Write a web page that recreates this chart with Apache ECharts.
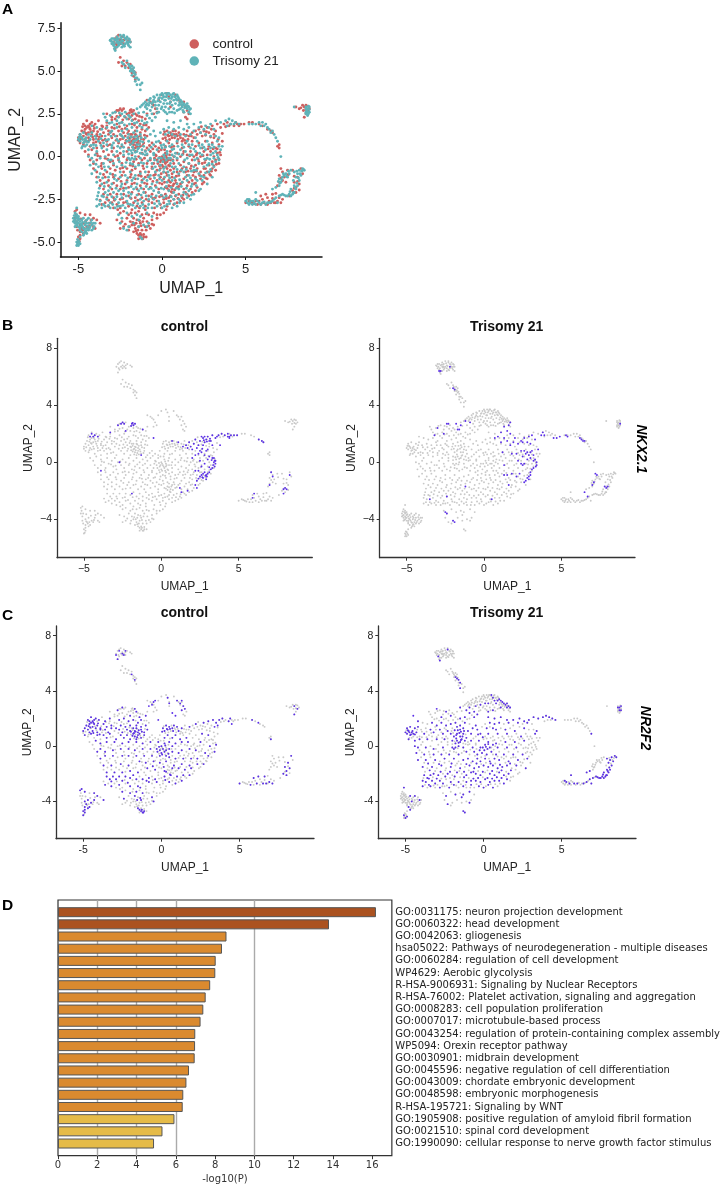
<!DOCTYPE html>
<html><head><meta charset="utf-8">
<script src="https://cdn.jsdelivr.net/npm/echarts@6/dist/echarts.min.js"></script>
<style>html,body{margin:0;padding:0;background:#fff}#c{width:723px;height:1188px}</style></head>
<body><div id="c"></div>
<script>
// UMAP coordinates, flat x,y pairs
const controlUMAP=[
-2.9,6.7,-2.8,6.9,-2.7,7,-2.6,7.1,-2.5,6.8,-2.4,6.7,-2.3,6.6,-2.5,6.6,-2.2,6.9,-2,6.8,-1.9,6.7,-2.7,6.5,-2.8,6.3,-2.75,6.6,-2.4,7,-2.3,6.8,-2.6,6.7,
-2.5,5.8,-2.6,5.5,-2.3,5.6,-2.1,5.5,-2.4,5.3,-2.2,5.3,-2,5.2,-1.9,5.4,-1.8,5.1,-1.7,5,-1.8,4.9,-1.6,4.9,-1.7,4.7,-1.6,4.5,
-0.9,3.3,-0.7,3.2,-0.6,3.1,-0.5,3,-0.4,2.8,-0.3,2.6,-0.5,2.5,-0.2,3.3,0,3.6,0.3,3.7,0.4,3.5,0.5,3.2,0.5,2.9,0.8,3.6,1,3.3,1.1,3.2,1.2,3,1.3,3.2,1.4,2.9,1.5,2.7,1.6,2.5,1.3,2.6,1.4,2.3,1.5,2.2,
-2.8,2.6,-2.7,2.7,-2.6,2.7,-2.5,2.8,-2.4,2.7,-2.3,2.8,-1.9,2.7,-1.8,2.6,-1.7,2.7,-1.6,2.5,-2.1,2.5,-1.85,2.75,-1.95,2.55,
-3.3,2.5,-3,2.3,-2.8,2.2,-2.5,2.4,-2.2,2.3,-2,2.2,-1.8,2.4,-1.6,2.2,-1.4,2.1,-1.2,2.3,-1,2.2,-0.9,2.5,-1.5,2.4,
-4.7,1.9,-4.5,2.1,-4.4,1.8,-4.2,2,-4,1.9,-3.8,2.1,-3.6,1.8,-3.3,2,-3,1.7,-2.7,1.9,-2.4,2,-2.1,1.8,-1.8,1.9,-1.5,1.7,-1.3,1.9,-4.6,1.8,-4.3,1.9,-4.5,1.7,-4.1,1.8,
-4.8,1.5,-4.6,1.6,-4.4,1.4,-4.3,1.6,-4.1,1.5,-3.9,1.3,-3.7,1.6,-3.5,1.4,-3.2,1.5,-2.9,1.3,-2.6,1.5,-2.3,1.4,-2,1.5,-1.8,1.3,-1.6,1.5,-1.3,1.4,-1,1.5,-0.8,1.7,
-5,1.1,-4.9,1.3,-4.7,1.2,-4.6,1,-4.5,1.3,-4.4,1.1,-4.2,1.3,-4.1,1,-3.9,1.2,-3.8,1,-3.6,1.2,-3.4,1,-3.2,1.3,-3,1.1,-2.7,1.2,-2.5,1,-2.2,1.2,-2,1.1,-1.9,1.3,-1.7,1.1,-1.6,1.3,-1.5,1,-1.3,1.2,-1.1,1,-0.9,1.2,
0.1,1.3,0.2,1.1,0.3,1.5,0.4,1.2,0.5,1.4,0.6,1.1,0.7,1.3,0.8,1.5,0.9,1.2,1,1.4,1.1,1.1,1.3,1.3,1.5,1.5,1.6,1.2,1.8,1.4,1.9,1.1,2.1,1.3,2.2,1.6,2.4,1.2,2.5,1.5,2.7,1.7,2.8,1.4,3,1.8,3.2,1.5,3.3,1.9,3.5,1.7,3.7,1.9,3.9,2,4.1,1.9,4.3,1.8,4.5,1.9,4.7,1.9,4.9,1.9,4,1.8,4.4,2,
5.2,2,5.4,2,5.8,1.9,6,1.8,6.3,1.6,6.5,1.5,6.6,1.4,7,0.7,6.9,0.6,7,0.5,
-4.9,0.8,-4.7,0.7,-4.5,0.9,-4.3,0.6,-4.1,0.8,-3.9,0.5,-3.7,0.8,-3.5,0.6,-3.3,0.9,-3.1,0.7,-2.9,0.5,-2.6,0.8,-2.4,0.6,-2.2,0.8,-2,0.5,-1.8,0.9,-1.7,0.7,-1.6,0.5,-1.5,0.8,-1.4,0.9,-1.3,0.6,-1.1,0.8,-0.9,0.5,-0.6,0.8,-0.4,0.6,-0.1,0.8,0.2,0.6,0.4,0.8,0.7,0.6,0.9,0.8,1.2,0.5,1.4,0.8,1.6,0.6,1.8,0.9,2,0.6,2.2,0.8,2.4,0.5,2.6,0.9,2.8,0.6,3,0.8,3.2,0.5,3.4,0.7,
-4.6,0.3,-4.4,0.1,-4.2,0.4,-3.9,0.2,-3.7,0,-3.5,0.3,-3.2,0.1,-3,0.3,-2.8,0,-2.5,0.2,-2.3,0,-2.1,0.3,-1.8,0.1,-1.6,0.3,-1.4,0,-1.2,0.2,-0.9,0.1,-0.7,0.3,-0.4,0.1,-0.2,0.3,0,0,0.2,0.2,0.3,-0.1,0.5,0.3,0.7,0,0.9,0.2,1.1,0,1.3,0.3,1.5,0.1,1.7,0.3,1.9,0,2.1,0.2,2.3,0,2.5,0.3,2.7,0.1,2.9,0.3,3.1,0,3.3,0.2,3.5,0.1,
-4.3,-0.2,-4.1,-0.4,-3.9,-0.2,-3.6,-0.4,-3.4,-0.1,-3.1,-0.3,-2.9,-0.5,-2.6,-0.2,-2.4,-0.4,-2.1,-0.2,-1.9,-0.5,-1.7,-0.3,-1.4,-0.4,-1.2,-0.2,-0.9,-0.4,-0.7,-0.2,-0.5,-0.4,-0.3,-0.2,-0.1,-0.3,0,-0.5,0.1,-0.2,0.2,-0.4,0.3,-0.3,0.4,-0.5,0.5,-0.2,0.7,-0.4,0.9,-0.2,1.1,-0.5,1.3,-0.3,1.6,-0.4,1.8,-0.2,2,-0.5,2.2,-0.3,2.4,-0.4,2.6,-0.2,2.8,-0.5,3,-0.3,3.2,-0.2,3.4,-0.4,
-4.1,-0.7,-3.9,-0.9,-3.6,-0.7,-3.3,-0.9,-3.1,-0.7,-2.8,-0.8,-2.5,-0.7,-2.3,-0.9,-2.1,-0.7,-1.8,-0.8,-1.6,-0.7,-1.3,-0.9,-1.1,-0.7,-0.8,-0.9,-0.6,-0.7,-0.3,-0.8,-0.1,-0.7,0.1,-0.9,0.3,-0.7,0.5,-0.8,0.7,-0.7,0.9,-0.9,1.2,-0.7,1.4,-0.9,1.7,-0.7,1.9,-0.9,2.1,-0.7,2.3,-0.9,2.5,-0.7,2.7,-0.9,3,-0.7,3.2,-0.8,
-3.9,-1.2,-3.7,-1.4,-3.4,-1.2,-3.2,-1.4,-2.9,-1.2,-2.6,-1.3,-2.4,-1.1,-2.1,-1.4,-1.9,-1.2,-1.6,-1.3,-1.4,-1.1,-1.2,-1.4,-1,-1.2,-0.7,-1.3,-0.5,-1.1,-0.3,-1.4,-0.1,-1.2,0.1,-1.3,0.3,-1.1,0.4,-1.4,0.6,-1.2,0.8,-1.4,1,-1.1,1.3,-1.3,1.5,-1.1,1.8,-1.4,2,-1.2,2.3,-1.3,2.5,-1.1,2.7,-1.3,2.9,-1.1,
-3.7,-1.7,-3.5,-1.9,-3.2,-1.7,-3,-1.9,-2.7,-1.7,-2.5,-1.9,-2.2,-1.6,-2,-1.8,-1.8,-1.6,-1.5,-1.9,-1.3,-1.7,-1.1,-1.9,-0.9,-1.6,-0.7,-1.8,-0.4,-1.7,-0.2,-1.9,0,-1.6,0.2,-1.8,0.4,-1.7,0.5,-1.5,0.6,-1.9,0.7,-1.6,0.9,-1.8,1.1,-1.6,1.3,-1.9,1.5,-1.7,1.7,-1.9,1.9,-1.6,2.1,-1.8,2.4,-1.6,2.5,-1.5,
-3.5,-2.2,-3.3,-2.4,-3.1,-2.2,-2.9,-2.4,-2.7,-2.2,-2.5,-2.5,-2.3,-2.2,-2,-2.3,-1.8,-2.1,-1.6,-2.4,-1.4,-2.2,-1.2,-2.4,-1,-2.1,-0.8,-2.3,-0.6,-2.2,-0.4,-2.4,-0.2,-2.1,0,-2.3,0.2,-2.2,0.4,-2.4,0.6,-2.1,0.8,-2.3,1,-2.2,1.2,-2.4,1.4,-2.1,1.6,-2.3,1.8,-2.1,2,-2,
-3.6,-2.8,-3.4,-2.7,-3.2,-2.9,-3,-2.7,-2.7,-2.8,-2.5,-3,-2.3,-2.7,-2,-2.9,-1.7,-2.7,-1.5,-2.9,-1.2,-2.7,-1,-2.9,-0.8,-2.6,-0.6,-2.7,-0.3,-2.6,-0.1,-2.8,0.1,-2.7,0.3,-2.9,0.5,-2.6,0.7,-2.8,0.9,-2.7,1.1,-2.6,1.3,-2.5,
-2.5,-3.3,-2.3,-3.2,-2,-3.4,-1.8,-3.1,-1.6,-3.3,-1.4,-3.2,-1.2,-3.4,-1,-3.1,-0.8,-3.4,-0.5,-3.3,-0.3,-3.4,-2.7,-3.7,-2.4,-3.8,-2.1,-3.6,-1.9,-3.8,-1.7,-3.6,-1.5,-3.7,-1.3,-3.9,-1.1,-3.6,-0.9,-3.8,-0.6,-3.7,-0.3,-3.6,-0.1,-3.4,0.1,-3.3,
-2.5,-4.2,-2.3,-4.1,-2,-4.3,-1.8,-4,-1.6,-4.2,-1.4,-4.1,-1.2,-4.3,-1,-4.1,-0.7,-4.2,-0.5,-4,-1.7,-4.4,-1.5,-4.5,-1.4,-4.6,-1.3,-4.7,-1.2,-4.8,-1.1,-4.7,-1.25,-4.6,-1.15,-4.8,
-5.2,-3.2,-5.1,-3.1,-5.2,-3.6,-5.1,-3.8,-4.9,-3.3,-4.6,-3.4,-4.3,-3.4,-4.1,-3.6,-3.9,-3.7,-3.7,-3.9,-5.1,-4.1,-4.9,-4,-4.7,-3.9,-4.5,-4.1,-4.3,-3.9,-4.1,-4.1,-4,-4.2,-4.9,-4.4,-4.8,-4.2,-4.6,-4.4,-4.4,-4.2,-5,-4.7,-4.9,-4.6,-4.7,-4.5,-5,-5,-4.9,-4.8,
5,-2.7,5.2,-2.6,5.4,-2.7,5.6,-2.6,5.7,-2.8,5.9,-2.8,6.1,-2.7,6.3,-2.8,6.5,-2.7,6.7,-2.7,6.9,-2.6,7.1,-2.7,7.2,-2.5,5.9,-2.3,6.2,-2.2,6.6,-2.2,6.9,-1.7,7,-1.5,7.2,-1.4,7.4,-1.5,7,-1.1,7.2,-0.9,7.1,-0.7,7.5,-0.8,7.8,-0.8,8.3,-0.7,8.1,-1.2,7.9,-1.5,7.8,-2,8,-2.1,8.2,-1.6,8,-1.8,
8,2.9,8.2,2.8,8.4,3,8.5,2.9,8.7,2.7,8.6,2.5,8.5,2.3,8.8,2.8,-3.3,1.8,-2.4,1.6,-1.2,1.6,1.2,0.9,-0.2,0.5
];
const controlDense=[
-4.75,1.75,-4.55,1.35,-4.35,1.7,-4.25,1.45,-4.05,1.65,-3.85,1.45,-4.65,1.45,-4.85,1.05,-4.65,0.85,-4.35,0.95,-4.15,1.15,-3.95,0.85,-3.75,1.15,-3.55,0.95,-3.35,1.65,-3.05,1.45,-2.85,1.65,-2.75,0.95,-3.25,0.65,-3.55,1.75,
-1.95,1.05,-1.85,0.75,-1.75,0.95,-1.65,1.05,-1.55,0.65,-1.45,1.15,-1.35,0.75,-1.25,1.05,-1.75,0.55,-1.65,0.85,-1.55,1.25,-1.85,1.15,-1.95,0.85,-2.15,0.95,-2.35,1.05,-1.15,0.65,-1.45,0.55,-1.05,1.25,-2.05,1.35,-2.45,1.25,
-3,2.15,-2.7,2.35,-2.35,2.15,-1.75,2.15,-1.35,2.35,-1.1,1.85,-2.2,1.65,-2.55,1.75,-1.65,1.85,-0.95,1.85,
0.05,1.05,0.15,1.45,0.25,0.95,0.35,1.25,0.45,1,0.55,1.25,0.65,1.5,0.75,1.1,0.85,1.3,0.95,1,1.05,1.25,1.25,1.05,1.45,1.25,1.35,0.95,1.55,1.0,1.75,1.2,2,1.5,2.3,1.4,2.6,1.25,2.9,1.15,3.1,1.3,2.35,1.75,2.65,1.45,2.95,1.6,
-0.15,-0.05,-0.05,-0.2,0.05,-0.1,0.15,-0.3,0.25,0.05,0.35,-0.2,0.45,0.1,-0.25,-0.4,-0.45,-0.1,-0.15,-0.55,0.05,-0.6,0.25,-0.6,0.45,-0.55,0.65,-0.2,-0.35,0.05,0.15,0.4,-0.05,0.4,0.55,0.55,-0.55,0.45,-0.75,0.65,-1,0.35,
1.25,0.15,1.65,0.05,2.05,0.1,2.45,0.05,2.75,0.45,3.05,0.45,3.3,0.45,3.45,0.25,3.4,-0.15,3.25,-0.45,3.1,-0.55,2.95,-0.85,2.55,-0.35,2.15,-0.15,1.75,-0.55,1.45,-0.65,2.05,-0.85,2.6,-0.7,2.85,-1.05,2.6,-1.25,2.25,-1.1,1.85,-1.1,
-3.85,0.05,-3.25,-0.15,-2.65,0.05,-2.05,-0.1,-1.55,-0.15,-1.05,-0.1,-3.65,-0.55,-2.95,-0.25,-2.35,-0.65,-1.75,-0.55,-1.15,-0.55,-0.6,-0.6,
-3.5,-1.05,-2.95,-1.05,-2.45,-1.45,-1.85,-1.05,-1.25,-1.15,-0.85,-1.1,-0.4,-1.05,-0.05,-1,0.25,-0.95,0.6,-1,0.85,-1.15,1.1,-0.85,1.55,-0.85,
-3.45,-1.55,-2.9,-1.55,-2.3,-1.85,-1.65,-1.55,-1.05,-1.55,-0.55,-1.45,-0.15,-1.55,0.15,-1.5,0.3,-1.85,0.4,-1.95,0.5,-1.75,0.55,-2.05,0.65,-1.7,0.75,-1.95,0.85,-1.55,1,-1.75,1.2,-1.5,1.6,-1.5,2,-1.55,
-3.7,-2.55,-3.2,-2.55,-2.85,-2.55,-2.35,-2.45,-2.15,-2.65,-1.85,-2.45,-1.45,-2.55,-0.95,-2.5,-0.55,-2.45,-0.15,-2.35,0.1,-2.5,0.25,-2.45,0.5,-2.3,0.7,-2.5,0.95,-2.45,1.25,-2.25,1.5,-2.2,
-2.9,-3,-2.65,-3.1,-1.85,-3.3,-1.35,-3,-0.95,-3.35,-0.45,-3,-0.05,-3,0.25,-3.1,
-2.2,-3.95,-1.95,-4.1,-1.75,-3.85,-1.65,-4,-1.55,-3.9,-1.45,-4.3,-1.35,-3.75,-1.25,-4.05,-1.15,-3.8,-0.95,-4.3,-0.8,-4.05,-0.6,-3.95,-1.55,-4.35,-1.3,-4.5,-1.1,-4.55,-0.95,-4.7,-1.4,-4.8,
-5.15,-3.4,-5.05,-3.6,-4.85,-3.65,-4.65,-4.2,-4.55,-3.75,-4.35,-4.05,-4.85,-4.15,-5.05,-4.3,-4.95,-4.95,-4.75,-4.3,-4.25,-3.7,
5.3,-2.65,5.5,-2.75,5.8,-2.6,6,-2.5,6.4,-2.6,6.6,-2.45,6.8,-2.7,7,-2.4,6.3,-2.4,6.8,-2.15,7.1,-1.25,7.3,-1.2,7.55,-1.05,7.9,-1.15,8.1,-1.45,8.4,-1,7.9,-1.85,8.2,-1.95,7.6,-2.3,
8.3,2.85,8.6,2.75,8.7,2.95,8.6,3,8.45,2.7,
-5,0.95,4.6,1.8,3.8,1.75,3.1,1.1,3.35,1,3.6,0.9,3.6,1.35
];
const t21UMAP=[
-3.1,6.8,-3,6.9,-3,6.6,-2.9,6.5,-2.9,6.9,-2.8,6.8,-2.8,6.4,-2.8,6.2,-2.7,6.7,-2.7,7,-2.6,6.5,-2.6,6.9,-2.5,6.7,-2.5,7.1,-2.4,6.4,-2.4,6.8,-2.3,6.5,-2.3,7,-2.3,7.1,-2.2,6.6,-2.2,6.9,-2.1,6.7,-2.1,7,-2,6.5,-2,6.9,-1.9,6.7,-1.9,6.4,-2.6,6.7,-2.4,6.6,-2.7,6.4,-2,6.7,
-2.4,5.5,-2.1,5.6,-2,5.4,-1.9,5.2,-1.8,5,-1.7,5.2,-1.7,4.9,-1.6,4.8,-1.9,5,-1.8,5.3,-1.5,4.6,-1.4,4.5,-1.3,4.2,-1.5,4.2,-1.2,4.3,-1.6,4.4,-1.3,3.9,-2.2,5.2,
-1.2,3,-1.1,3.1,-1,2.9,-1,3.2,-0.9,3.1,-0.9,2.8,-0.8,3.3,-0.8,3,-0.7,2.7,-0.7,3.4,-0.6,3.1,-0.6,2.9,-0.5,3.3,-0.5,3.5,-0.4,3,-0.4,3.2,-0.3,3.6,-0.3,2.8,-0.2,3.4,-0.2,3,-0.2,2.6,-0.1,3.6,-0.1,3.2,0,3.7,0,3.4,0,2.9,0.1,3.5,0.1,3.1,0.1,2.7,0.2,3.7,0.2,3.3,0.2,2.9,0.3,3.6,0.3,3.1,0.3,2.5,0.4,3.7,0.4,3.4,0.4,2.8,0.5,3.6,0.5,3.2,0.6,3.5,0.6,3,0.6,2.6,0.7,3.7,0.7,3.3,0.7,2.8,0.8,3.5,0.8,3.1,0.9,3.6,0.9,3.3,0.9,2.7,1,3.4,1,3,1.1,3.3,1.1,2.8,1.2,3.2,1.2,2.9,1.3,3.1,1.3,2.6,1.4,3,1.5,3.1,1.5,2.8,1.6,2.9,1.6,2.6,1.7,2.8,1.7,2.5,
-3.5,2.5,-3.4,2.3,-3.1,2.4,-2.8,2.6,-2.6,2.3,-2.4,2.5,-2.2,2.6,-2,2.4,-1.7,2.5,-1.5,2.8,-1.3,2.9,-1.1,2.6,-0.9,2.4,-0.6,2.5,-0.4,2.3,-3.3,2.1,-3,2,-2.7,2.1,-2.4,2,-2.1,2.2,-1.8,2.1,-1.5,2,-1.2,2.1,-0.9,2,-0.6,2.1,0.3,2.1,0.7,2,1.1,2.1,1.5,1.9,1.9,1.9,2.3,2,2.6,1.8,2.9,1.9,3.2,2.1,3.5,2,3.8,2.1,4,2.2,4.2,2.1,4.4,2,4.6,1.9,4.1,1.9,3.9,1.8,4.3,1.9,5.2,1.9,5.4,1.9,5.6,1.9,5.8,2,6,2,6.2,1.9,6.3,1.7,5.9,1.8,6.1,1.8,6.4,1.6,6.5,1.4,6.7,1.3,6.8,1.1,6.9,0.9,6.6,1.5,7.1,0,
-4.2,1.8,-3.9,1.7,-3.6,1.6,-3.3,1.7,-3,1.5,-2.7,1.7,-2.4,1.5,-2.1,1.6,-1.8,1.7,-1.5,1.5,-1.2,1.7,-0.9,1.6,-0.5,1.5,0.1,1.6,0.4,1.7,0.7,1.6,1,1.7,1.3,1.6,1.6,1.7,1.9,1.5,2.2,1.7,2.5,1.6,2.8,1.7,3.1,1.6,
-4.9,1.3,-4.7,1.4,-4.4,1.3,-4.2,1.4,-4,1.2,-3.7,1.3,-3.4,1.2,-3.1,1.4,-2.8,1.2,-2.5,1.3,-2.3,1.1,-2,1.3,-1.7,1.4,-1.5,1.2,-1.3,1.3,-1,1.1,-0.7,1.3,-0.4,1.2,-0.1,1.4,0.2,1.3,0.4,1.4,0.6,1.3,0.8,1.2,1.1,1.3,1.4,1.2,1.7,1.3,2,1.1,2.3,1.4,2.6,1.3,2.9,1.2,3.2,1.2,3.4,1.1,
-5,1,-4.9,0.9,-4.8,1.1,-4.7,0.8,-4.6,1,-4.5,0.9,-4.3,1,-4.1,0.7,-3.8,0.9,-3.5,0.8,-3.2,1,-2.9,0.8,-2.6,0.9,-2.4,0.7,-2.1,0.9,-1.9,0.7,-1.7,0.9,-1.5,0.7,-1.3,0.9,-1.1,0.6,-0.8,0.9,-0.5,0.7,-0.2,0.9,0.1,0.7,0.3,0.9,0.6,0.7,0.9,0.9,1.2,0.7,1.5,0.9,1.8,0.7,2.1,0.9,2.4,0.7,2.7,0.9,3,0.7,3.3,0.9,3.6,0.6,
-4.8,0.5,-4.6,0.6,-4.4,0.4,-4.1,0.5,-3.9,0.3,-3.6,0.5,-3.3,0.4,-3,0.5,-2.7,0.3,-2.5,0.5,-2.3,0.3,-2,0.4,-1.8,0.2,-1.7,0.4,-1.5,0.3,-1.4,0.5,-1.2,0.4,-1,0.3,-0.8,0.4,-0.5,0.2,-0.3,0.4,0,0.5,0.3,0.3,0.6,0.4,0.8,0.2,1.1,0.4,1.4,0.3,1.7,0.5,2,0.3,2.3,0.5,2.6,0.4,2.9,0.5,3.2,0.3,3.5,0.4,
-4.4,0,-4.2,-0.1,-4,0.1,-3.7,-0.1,-3.4,0,-3.2,-0.2,-2.9,0.1,-2.6,-0.1,-2.3,0.1,-2,-0.1,-1.8,-0.1,-1.6,0,-1.9,-0.2,-1.3,-0.1,-1,0.1,-0.7,-0.1,-0.5,0.1,-0.2,-0.1,0.1,0.1,0.4,-0.1,0.6,0.1,0.9,-0.1,1.2,0.1,1.5,-0.1,1.8,0.1,2.1,-0.1,2.4,0.1,2.7,-0.1,2.9,0.1,3.1,-0.1,3.3,0.1,3.4,-0.2,3.2,-0.3,
-4.3,-0.5,-4.1,-0.3,-3.8,-0.6,-3.5,-0.4,-3.2,-0.6,-2.9,-0.4,-2.7,-0.6,-2.4,-0.5,-2.2,-0.6,-1.9,-0.4,-1.6,-0.6,-1.4,-0.5,-1.1,-0.4,-0.9,-0.6,-0.6,-0.4,-0.4,-0.6,-0.1,-0.5,0.2,-0.6,0.5,-0.4,0.8,-0.6,1,-0.4,1.3,-0.6,1.6,-0.4,1.9,-0.6,2.2,-0.4,2.5,-0.6,2.8,-0.4,3.1,-0.6,
-4.2,-1,-4,-0.8,-3.7,-1,-3.4,-0.8,-3.1,-1,-2.8,-1.1,-2.5,-0.9,-2.2,-1.1,-1.9,-0.9,-1.6,-1.1,-1.3,-1,-1,-0.9,-0.7,-1.1,-0.4,-0.9,-0.2,-1.1,0.1,-0.9,0.4,-1.1,0.7,-0.9,1,-1,1.3,-0.9,1.6,-1.1,1.9,-0.8,2.2,-1,2.5,-1.2,2.8,-0.9,3,-1.2,
-3.9,-1.5,-3.6,-1.6,-3.3,-1.5,-3,-1.6,-2.7,-1.4,-2.4,-1.6,-2.1,-1.5,-1.8,-1.4,-1.5,-1.6,-1.2,-1.5,-0.9,-1.4,-0.6,-1.6,-0.3,-1.5,0,-1.4,0.3,-1.5,0.6,-1.4,0.9,-1.6,1.2,-1.5,1.5,-1.4,1.8,-1.6,2.1,-1.4,2.4,-1.4,2.7,-1.6,
-3.8,-2.1,-3.6,-2.3,-3.4,-2.1,-3.2,-2,-2.9,-2.1,-2.6,-2,-2.3,-2,-2,-2.1,-1.7,-1.9,-1.4,-2,-1.1,-2.1,-0.8,-1.9,-0.5,-2,-0.2,-2.1,0.1,-1.9,0.4,-2,0.7,-2.1,1,-1.9,1.3,-2.1,1.6,-2,1.9,-2.2,2.2,-2,2.3,-1.9,
-3.9,-2.5,-3.7,-2.6,-3.5,-2.8,-3.3,-2.5,-3.1,-2.7,-2.8,-2.5,-2.6,-2.7,-2.4,-2.4,-2.1,-2.6,-1.9,-2.4,-1.6,-2.6,-1.3,-2.5,-1.1,-2.6,-0.8,-2.5,-0.5,-2.5,-0.2,-2.6,0.1,-2.4,0.4,-2.6,0.7,-2.5,1,-2.5,1.3,-2.7,1.5,-2.4,1.7,-2.5,
-3.9,-2.9,-3.6,-3,-3.4,-2.9,-3.1,-3,-2.8,-3,-2.5,-2.9,-2.2,-3,-1.9,-2.8,-1.6,-3,-1.3,-2.9,-1.1,-3,-0.8,-2.8,-0.6,-3,-0.3,-2.9,0,-3,0.3,-2.8,0.6,-3,0.9,-2.9,
-2.6,-3.4,-2.4,-3.6,-2.1,-3.3,-1.8,-3.5,-1.5,-3.4,-1.3,-3.5,-0.9,-3.3,-0.6,-3.5,-2.5,-3.9,-2.3,-4.2,-2,-4.1,-1.7,-3.9,-1.4,-4.1,-1.1,-4,-0.8,-3.9,-0.9,-4.1,-2.1,-4.3,-1.3,-4.7,-1.2,-4.8,-1.4,-3.7,
-5.1,-3,-5.2,-3.3,-5.1,-3.4,-5.3,-3.6,-5.2,-3.7,-5.1,-3.6,-5.3,-3.8,-5.2,-3.9,-5.1,-3.8,-5,-3.5,-5,-3.7,-5.1,-4,-5,-4.1,-4.9,-3.8,-5.2,-4.1,-5,-3.9,-4.9,-4.1,-4.8,-3.7,-4.7,-3.6,-4.6,-3.8,-4.4,-3.6,-4.2,-3.7,-4.1,-3.9,-4.8,-4,-4.6,-4,-4.4,-3.9,-4.2,-4,-4,-3.9,-4.7,-4.2,-4.5,-4.2,-4.3,-4.1,-4.1,-4.2,-4.8,-4.4,-4.6,-4.4,-4.4,-4.3,-4.2,-4.3,-4.9,-4.3,-4.7,-4.6,-4.5,-4.5,-4.9,-4.7,-5.1,-5,-5,-5.2,-4.9,-5.1,-5.1,-5.2,-5,-4.9,
5,-2.6,5.1,-2.7,5.2,-2.5,5.2,-2.8,5.3,-2.6,5.4,-2.8,5.5,-2.7,5.6,-2.5,5.6,-2.8,5.8,-2.7,6,-2.7,6.2,-2.8,6.4,-2.7,6.6,-2.6,6.8,-2.4,6.9,-2.7,7,-2.3,7.2,-2.2,7.4,-2.3,7.6,-2.2,7.8,-2.2,7.9,-2.1,8,-1.9,7.7,-2.3,8.1,-1.7,8.2,-1.4,7.9,-1.7,7.7,-1.9,8,-1.2,8.1,-1,8.3,-1.1,8.2,-0.8,8.4,-0.7,8.5,-0.8,7.9,-0.9,5.6,-2.1,6.6,-1.9,6.8,-1.8,7,-1.3,7.1,-1.5,7.2,-1.2,7.3,-1.1,7.4,-1,7.5,-1.2,7.6,-1,7.7,-0.8,7,-1.7,
7.9,2.9,8.6,2.9,8.7,2.8,8.8,2.6,8.7,2.4,8.6,2.6,8.8,2.9,8.7,2.6,8.6,2.8
];
const t21Dense=[
-3.05,6.75,-2.95,6.7,-2.85,6.6,-2.65,6.85,-2.55,6.6,-2.45,6.95,-2.35,6.75,-2.25,6.45,-2.15,6.85,-2.05,6.6,-1.95,6.85,-2.65,6.65,-2.85,6.3,-2.75,6.85,
-1.85,5.1,-1.75,5.05,-1.65,4.95,-1.8,4.75,-1.6,4.6,-1.95,5.3,-2.3,5.4,
-0.95,3,-0.75,3.15,-0.55,3.2,-0.45,3.45,-0.25,3.25,-0.15,3.45,0.05,3.6,0.15,3.3,0.25,3.5,0.35,3.7,0.45,3.1,0.55,3.4,0.65,3.65,0.75,3.5,0.85,3.35,0.95,3.5,1.05,3.15,1.15,3.05,1.25,3,1.35,2.85,1.45,2.9,1.55,2.95,1.65,2.75,-0.05,2.8,0.2,2.6,0.45,2.6,0.75,2.55,1,2.75,1.25,2.7,
-2.95,2.55,-2.55,2.55,-2.25,2.35,-1.9,2.3,-1.4,2.55,-0.75,2.25,-0.3,2.55,-3.15,1.95,-2.85,1.85,-2.55,1.95,-2.25,1.85,-1.95,1.9,-1.65,1.95,-1.35,1.8,-1.05,1.95,
-4.85,1.15,-4.95,1.15,-4.75,1,-4.65,0.85,-4.55,1.1,-4.4,0.85,-4.25,1.2,-3.95,1.05,-3.65,1.05,-3.35,0.95,-3.05,1.2,-2.7,1,-2.4,1.2,-4.75,0.6,-4.5,0.7,-4.25,0.65,-3.95,0.65,-3.65,0.65,-3.3,0.7,-3,0.65,-2.65,0.6,-2.3,0.55,
-2.05,1.1,-1.95,0.95,-1.85,1.15,-1.75,0.8,-1.65,1.15,-1.55,0.95,-1.45,1.05,-1.35,0.7,-1.25,1.1,-1.15,0.85,-1.75,0.55,-1.6,0.25,-1.45,0.45,-1.3,0.2,-1.85,0.35,-2,0.15,-1.65,-0.15,-1.15,0.15,
-0.9,0.15,-0.65,0.55,-0.35,0.85,-0.05,0.65,0.2,0.55,0.45,0.6,0.7,0.45,0.95,0.6,1.3,0.55,1.6,0.7,1.9,0.45,2.2,0.65,2.5,0.55,2.8,0.7,3.1,0.55,3.4,0.6,
-0.05,-0.1,0.05,-0.3,0.15,-0.05,0.25,-0.2,0.3,0.15,-0.25,-0.3,-0.45,-0.2,0.5,-0.1,0.65,-0.25,0.75,0,1,0.15,1.35,-0.2,1.65,0.1,1.95,-0.2,2.25,0.2,2.55,-0.15,2.85,-0.15,3.05,0.2,3.35,-0.05,3,-0.45,2.7,-0.5,
-3.95,-0.45,-3.45,-0.6,-3.05,-0.2,-2.55,-0.3,-2.15,-0.35,-1.75,-0.45,-1.25,-0.35,-0.85,-0.25,-0.55,-0.7,-0.15,-0.8,0.1,-0.7,0.35,-0.9,0.6,-0.6,0.9,-0.75,1.15,-0.8,1.45,-0.75,1.75,-0.85,2.05,-0.8,2.35,-1.15,2.6,-0.95,2.9,-0.75,
-3.8,-1.2,-3.55,-1.25,-3.2,-1.2,-2.85,-1.3,-2.5,-1.2,-2.05,-1.25,-1.7,-1.25,-1.45,-1.3,-1.1,-1.3,-0.8,-1.2,-0.45,-1.25,-0.15,-1.3,0.15,-1.2,0.45,-1.25,0.75,-1.25,1.05,-1.35,1.4,-1.2,1.7,-1.25,2,-1.3,
-3.75,-1.85,-3.45,-1.75,-3.1,-1.8,-2.75,-1.85,-2.45,-1.75,-2.15,-1.85,-1.85,-1.75,-1.55,-1.8,-1.25,-1.85,-0.95,-1.75,-0.65,-1.85,-0.35,-1.8,-0.05,-1.85,0.25,-1.75,0.55,-1.8,0.85,-1.85,1.15,-1.75,1.45,-1.85,1.75,-1.75,2.05,-1.7,
-3.85,-2.3,-3.5,-2.35,-3.25,-2.25,-3,-2.35,-2.7,-2.35,-2.45,-2.2,-2.15,-2.3,-1.85,-2.2,-1.5,-2.25,-1.25,-2.25,-0.95,-2.3,-0.65,-2.35,-0.35,-2.3,-0.05,-2.25,0.25,-2.3,0.55,-2.35,0.85,-2.25,1.15,-2.3,1.45,-2.2,1.75,-2.25,
-3.75,-2.8,-3.2,-2.85,-2.95,-2.8,-2.65,-2.9,-2.35,-2.85,-2.05,-2.75,-1.75,-2.85,-1.45,-2.75,-1.15,-2.8,-0.85,-3,-0.45,-2.75,-0.15,-2.75,0.15,-2.9,0.45,-2.75,0.75,-2.75,1.05,-2.7,
-5.15,-3.5,-5.25,-3.75,-5.05,-3.9,-4.95,-3.65,-5.15,-4.05,-5.05,-3.55,-5.25,-3.45,-4.85,-3.95,-4.9,-4.2,-4.75,-4.1,-4.65,-4.25,-4.55,-3.9,-4.35,-4.2,-4.45,-4.05,-4.25,-3.85,-4.05,-4.1,-4.65,-4.5,-4.55,-4.35,-4.75,-3.85,-4.5,-3.7,-5.05,-5.1,-4.95,-5,-5.05,-4.85,
5.1,-2.5,5.25,-2.7,5.45,-2.6,5.7,-2.6,5.9,-2.8,6.1,-2.65,6.3,-2.7,6.5,-2.65,6.7,-2.5,7.1,-2.25,7.3,-2.25,7.5,-2.3,7.65,-2.05,7.85,-2.1,7.95,-1.8,8.05,-1.55,7.85,-1.4,8.15,-1.25,8.25,-1,8.35,-0.85,8.05,-0.85,8.45,-0.75,7.15,-1.35,7.25,-1,7.05,-1.55,6.95,-1.45,7.45,-1.15,7.55,-0.85,
8.65,2.7,8.75,2.5,8.8,2.75,8.6,2.5,8.75,2.95
];
// cells showing NKX2.1 expression
const nkxControl=[
-2.8,2.6,-2.6,2.7,-2.5,2.8,-2.4,2.7,-1.9,2.7,-1.8,2.6,-1.7,2.7,-1.85,2.75,-1.95,2.55,-1.2,2.3,-2.3,2.2,-3.3,2.1,-4.6,1.8,-4.4,1.8,-4.3,1.9,-4.5,2,-4.1,1.8,-0.5,1.7,
0.7,1.5,1.1,1.4,1.4,1.1,1.6,1.2,1.7,1,1.8,1.4,1.9,1.1,2,0.9,2.1,1.3,2.2,1.6,2.3,1,2.4,1.2,2.5,1.5,2.5,0.8,2.6,1.8,2.7,1.7,2.7,1.2,2.8,1.4,2.8,1.8,2.9,1.6,3,1.8,3,0.9,3.1,1.5,3.2,1.5,3.3,1.9,3.3,1.2,3.5,1.7,3.6,1.8,3.7,1.9,3.9,2,3.8,1.2,4.1,1.9,4.3,1.8,4.4,1.8,4.5,1.9,4.7,1.9,4.9,1.9,4.3,2,4.4,1.7,6.3,1.6,6.5,1.5,6.6,1.4,
2,0.3,2.2,0.5,2.4,0.6,2.6,0.7,2.8,0.5,2.9,0.8,3.1,0.4,3.3,0.3,3.4,0.3,3.5,0.1,3.5,-0.1,3.45,-0.3,3.4,0,3.3,-0.4,3.2,-0.5,3.1,-0.7,3,-0.8,2.9,-0.9,2.8,-0.7,2.7,-0.8,2.6,-0.9,2.5,-1,2.7,-1.1,2.9,-1.2,2.4,-0.6,2.2,-0.6,2.5,0.1,2.8,-0.1,3,0.2,2.6,-0.3,2.3,-1.3,2.2,-1.6,2.3,-1.8,1.7,-2,1.3,-2.1,1.2,-1.8,
-1.9,-2.2,-2.7,0,-3.9,-0.6,-1.3,0.5,7.1,-0.7,7.2,-1,7.9,-1.9,8,-1.8,8.1,-1.9,8.3,-0.9,7,-1.6,6,-2.2,5.9,-2.5,7.9,-2.2,
2.75,1.55,2.95,1.45,3.15,1.65,2.65,0.95,3.25,0.15,3.35,-0.2,3.45,0.1,3.1,-0.35,2.85,-0.95,2.65,-1.05,2.95,-1,2.4,-1.15
];
const nkxT21=[
-2.9,6.4,-2.8,6.4,-2.2,6.7,-2,5.2,-1.9,5.1,-3,2.4,-2.4,2.7,-2.3,2.7,-1.8,2.7,-1.5,2.6,-1.2,2.9,-0.9,2.8,-1.7,2.3,-2.6,2,-3.2,1.9,-1.6,2.3,1.7,2.8,1.6,2.6,1.5,2.2,1.3,2.5,1.1,2.1,1.7,2,
0.7,1.7,0.9,1.8,1.1,1.4,1.3,1.7,1.5,1.5,1.7,1.2,1.9,1.4,2,1.7,2.2,1.3,2.4,1.5,2.5,1.4,2.6,1.7,2.8,1.4,2.9,1.8,3.1,1.9,3.3,1.6,3,1.3,3.5,0.9,3.8,2.1,3.7,1.9,3.9,1.9,4.5,1.7,4.7,1.7,4.9,1.8,5.3,1.9,5.4,1.8,6.2,1.7,6.3,1.6,6.4,1.5,6.5,1.5,
1.2,0.7,1.8,0.6,2.1,0.6,2.4,0.8,2.6,0.8,2.7,0.6,2.8,0.7,3,0.7,3.1,0.8,3.2,0.5,2.5,0.4,2.8,0.2,2.9,0.5,3,0.3,3.2,0.1,3.3,0.2,3.4,0,3.4,-0.2,3.35,-0.3,3.2,-0.4,3.1,-0.5,3,-0.7,2.9,-1,2.8,-1.1,2.9,-1.2,3,-0.9,2.6,-1.4,2.7,-1.3,2.5,-0.2,2.6,-0.1,2.4,-0.1,2.2,0.1,2.3,-0.8,1.3,-0.2,1.5,-0.9,1.8,-0.8,1.3,-0.9,2.1,-1,1.6,-1.6,
-3.5,-2.6,-2.4,-2.4,-1.2,-1.7,0.5,-2.6,-2.5,-3.5,-2.4,-3.6,-2,-4.1,-1.9,-4.2,7,-1.6,7.1,-1.4,7.2,-0.8,7.3,-0.9,7.8,-1.7,7.9,-1.8,8,-1.7,8.8,2.7,6.5,-2.1,6.7,-2.4
];
// cells showing NR2F2 expression
const nr2Control=[
-2.7,6.9,-2.5,6.7,-2.4,6.6,-2.3,6.9,-2.9,6.6,-2.8,6.3,-1.7,4.8,-1.9,5.2,
-0.6,3,-0.5,3.2,-0.4,3.3,0.4,3.5,0.5,3.1,1,3.3,1.2,3.1,1.3,3.3,1.4,2.9,1.5,2.7,1.3,2.6,-0.8,2.9,
-2.8,2.6,-2.5,2.8,-2,2.2,-1.7,2.7,-1.6,2.5,-1.4,2.1,-1,2.2,-0.2,1.9,0.7,2.4,0.9,2.2,
-4.5,2.1,-4.7,1.9,-4.4,1.8,-4.2,2,-4,1.9,-3.6,1.8,-3.3,2,-2.7,1.9,-2.4,2,-2.1,1.8,-1.8,1.9,-1.5,1.7,-1.3,1.9,-4.6,1.8,-4.3,1.9,-4.5,1.7,
-4.8,1.5,-4.6,1.6,-4.4,1.4,-4.3,1.6,-4.1,1.5,-3.9,1.3,-3.7,1.6,-3.5,1.4,-3.2,1.5,-2.9,1.3,-2.6,1.5,-2.3,1.4,-2,1.5,-1.8,1.3,-1.6,1.5,-1.3,1.4,-1,1.5,
-5,1.1,-4.9,1.3,-4.7,1.2,-4.6,1,-4.4,1.1,-4.2,1.3,-4.1,1,-3.9,1.2,-3.6,1.2,-3.4,1,-3.2,1.3,-2.7,1.2,-2.5,1,-2.2,1.2,-2,1.1,-1.7,1.1,-1.6,1.3,-1.5,1,-1.3,1.2,-1.1,1,-0.9,1.2,
0.1,1.3,0.2,1.1,0.3,1.5,0.4,1.2,0.5,1.4,0.7,1.3,0.8,1.5,1,1.4,1.1,1.1,1.3,1.3,1.8,1.4,2.2,1.6,2.7,1.7,3,1.8,3.3,1.9,3.5,1.7,3.7,1.9,3.9,2,3.6,1.5,3.4,1.4,4.4,2,4.5,1.6,4.3,1.8,7,0.5,6.2,1.7,5.8,1.9,
-4.9,0.8,-4.5,0.9,-4.1,0.8,-3.7,0.8,-3.5,0.6,-3.3,0.9,-2.9,0.5,-2.6,0.8,-2.4,0.6,-2.2,0.8,-2,0.5,-1.8,0.9,-1.7,0.7,-1.6,0.5,-1.5,0.8,-1.4,0.9,-1.3,0.6,-1.1,0.8,0.2,0.6,0.4,0.8,0.7,0.6,0.9,0.8,1.2,0.5,1.6,0.6,2.6,0.9,3,0.8,
-4.2,0.4,-3.9,0.2,-3.5,0.3,-3,0.3,-2.5,0.2,-2.1,0.3,-1.6,0.3,-1.2,0.2,-0.7,0.3,-0.2,0.3,0,0,0.2,0.2,0.5,0.3,0.7,0,0.9,0.2,1.3,0.3,1.7,0.3,2.5,0.3,3.1,0,3.5,0.1,
-4.1,-0.4,-3.9,-0.2,-3.6,-0.4,-3.1,-0.3,-2.6,-0.2,-2.1,-0.2,-1.7,-0.3,-1.2,-0.2,-0.7,-0.2,-0.3,-0.2,-0.1,-0.3,0,-0.5,0.1,-0.2,0.2,-0.4,0.3,-0.3,0.5,-0.2,0.7,-0.4,1.1,-0.5,1.3,-0.3,1.8,-0.2,2.2,-0.3,2.8,-0.5,3.4,-0.4,
-3.9,-0.9,-3.6,-0.7,-3.1,-0.7,-2.5,-0.7,-2.1,-0.7,-1.6,-0.7,-1.1,-0.7,-0.6,-0.7,-0.1,-0.7,0.3,-0.7,0.5,-0.8,0.9,-0.9,1.4,-0.9,1.9,-0.9,2.3,-0.9,3,-0.7,
-3.7,-1.4,-3.2,-1.4,-2.6,-1.3,-2.1,-1.4,-1.4,-1.1,-1,-1.2,-0.5,-1.1,-0.1,-1.2,0.3,-1.1,0.8,-1.4,1.3,-1.3,1.8,-1.4,2.3,-1.3,2.7,-1.3,
-3.5,-1.9,-3,-1.9,-2.5,-1.9,-2,-1.8,-1.5,-1.9,-0.9,-1.6,-0.4,-1.7,0.2,-1.8,0.7,-1.6,1.1,-1.6,1.5,-1.7,1.9,-1.6,
-3.5,-2.2,-3.3,-2.4,-3.1,-2.2,-2.9,-2.4,-2.7,-2.2,-2.5,-2.5,-2.3,-2.2,-2,-2.3,-1.8,-2.1,-1.6,-2.4,-1.2,-2.4,-0.8,-2.3,-0.4,-2.4,0.2,-2.2,0.6,-2.1,1,-2.2,1.4,-2.1,1.8,-2.1,
-3.6,-2.8,-3.2,-2.9,-2.7,-2.8,-2,-2.9,-1.5,-2.9,-0.8,-2.6,-0.3,-2.6,0.5,-2.6,0.9,-2.7,1.3,-2.5,
-2.5,-3.3,-2,-3.4,-1.6,-3.3,-1.2,-3.4,-2.4,-3.8,-1.7,-3.6,-1.3,-3.9,-0.6,-3.7,-1.5,-4.5,-1.4,-4.6,-1.3,-4.7,-1.2,-4.8,-1.1,-4.7,-1.25,-4.6,-1.15,-4.8,-0.5,-4,-3.7,-3.9,
-5.2,-3.2,-5.1,-3.1,-4.9,-3.3,-4.3,-3.4,-4.1,-3.6,-4.9,-4,-4.7,-3.9,-4.5,-4.1,-4.3,-3.9,-4.9,-4.4,-4.8,-4.2,-4.6,-4.4,-5,-4.7,-4.9,-4.6,-4.7,-4.5,-5,-5,-4.9,-4.8,
5,-2.7,5.9,-2.3,6.2,-2.2,6.6,-2.2,5.7,-2.8,6.1,-2.7,6.5,-2.7,6.7,-2.7,6.9,-2.6,7.1,-2.7,7.9,-1.5,7.8,-2,8,-2.1,8.2,-1.6,8,-1.8,8.3,-0.7,8.1,-1.2,8.5,2.9,8.5,2.3,8.7,2.7,
-4.55,1.35,-4.35,1.7,-4.05,1.65,-4.65,1.45,-4.35,0.95,-3.95,0.85,-1.85,0.75,-1.65,1.05,-1.45,1.15,-1.75,0.95,-1.55,0.65,-1.25,1.05,-1.95,1.05,0.35,1.25,0.55,1.25,0.75,1.1,0.05,1.05,-0.15,-0.05,-0.25,-0.4,0.25,0.05,0.05,-0.6,0.45,-0.55,0.55,-2.05,0.3,-1.85,0.15,-1.5,-0.55,-1.45,-0.95,-2.5,0.25,-2.45,-2.15,-2.65,-3.2,-2.55,-1.35,-3,-1.55,-3.9,-1.35,-3.75
];
const nr2T21=[
-2.8,6.2,-2.9,6.5,-2.3,7,-1.8,5,-1.7,4.9,-1.6,4.8,-1.5,4.6,-1.5,4.2,
-0.9,2.8,-0.5,2.9,-0.2,3,0.1,3.1,0.3,3.1,0.5,3.7,0.6,3.5,0.7,3.3,0.8,3.1,0.9,3.3,1,3.4,1.1,3.3,1.2,3.2,1.3,3.1,1.4,3,1.5,3.1,1.5,2.8,1.6,2.9,1.7,2.8,0.6,2.6,1.1,2.8,0.3,2.5,
-3,2.7,-2.4,2.5,-1.5,2.8,-1.1,2.6,-0.9,2.4,-0.6,2.5,-0.4,2.3,-4.5,2.2,-2.7,2.1,-2.1,2.2,-1.5,2,-1.2,2.1,-0.6,2.1,0.3,2.1,0.7,2,1.1,2.1,1.5,1.9,1.9,1.9,2.3,2,2.6,1.8,2.9,1.9,3.2,2.1,3.5,2,3.8,2.1,4,2.2,4.2,2.1,4.4,2,4.6,1.9,6.9,0.9,
-4.2,1.8,-3.3,1.7,-3,1.5,-2.7,1.7,-2.4,1.5,-2.1,1.6,-1.8,1.7,-1.5,1.5,-1.2,1.7,-0.5,1.5,0.4,1.7,0.7,1.6,1,1.7,1.6,1.7,2.2,1.7,2.8,1.7,
-4.9,1.3,-4.7,1.4,-4.4,1.3,-4.2,1.4,-3.4,1.2,-2.8,1.2,-2.3,1.1,-1.7,1.4,-1.5,1.2,-1.3,1.3,-1,1.1,-0.7,1.3,-0.4,1.2,0.2,1.3,0.6,1.3,0.8,1.2,1.4,1.2,2,1.1,2.6,1.3,3.4,1.1,
-5,1,-4.9,0.9,-4.8,1.1,-4.7,0.8,-4.6,1,-4.5,0.9,-4.3,1,-3.8,0.9,-3.2,1,-2.6,0.9,-2.1,0.9,-1.9,0.7,-1.7,0.9,-1.5,0.7,-1.3,0.9,-1.1,0.6,-0.8,0.9,-0.2,0.9,0.3,0.9,0.9,0.9,1.5,0.9,2.4,0.7,3.3,0.9,
-4.8,0.5,-4.4,0.4,-4.1,0.5,-3.6,0.5,-3,0.5,-2.5,0.5,-2,0.4,-1.8,0.2,-1.7,0.4,-1.5,0.3,-1.4,0.5,-1.2,0.4,-0.8,0.4,-0.3,0.4,0.3,0.3,0.8,0.2,1.4,0.3,2,0.3,2.6,0.4,
-4.4,0,-4.2,-0.1,-3.7,-0.1,-3.2,-0.2,-2.6,-0.1,-2,-0.1,-1.8,-0.1,-1.6,0,-1.9,-0.2,-1.3,-0.1,-0.7,-0.1,-0.2,-0.1,0.1,0.1,0.4,-0.1,0.6,0.1,0.9,-0.1,1.5,-0.1,2.1,-0.1,
-4.3,-0.5,-3.8,-0.6,-3.2,-0.6,-2.7,-0.6,-2.2,-0.6,-1.6,-0.6,-1.1,-0.4,-0.6,-0.4,-0.4,-0.6,-0.1,-0.5,0.2,-0.6,0.5,-0.4,0.8,-0.6,1.3,-0.6,1.9,-0.6,2.5,-0.6,
-4.2,-1,-3.7,-1,-3.1,-1,-2.5,-0.9,-1.9,-0.9,-1.3,-1,-1,-0.9,-0.7,-1.1,-0.4,-0.9,-0.2,-1.1,0.1,-0.9,0.4,-1.1,0.7,-0.9,1,-1,1.6,-1.1,2.2,-1,2.8,-0.9,
-3.9,-1.5,-3.3,-1.5,-2.7,-1.4,-2.1,-1.5,-1.5,-1.6,-0.9,-1.4,-0.6,-1.6,-0.3,-1.5,0,-1.4,0.3,-1.5,0.6,-1.4,0.9,-1.6,1.2,-1.5,1.5,-1.4,2.1,-1.4,2.7,-1.6,
-3.8,-2.1,-3.6,-2.3,-3.4,-2.1,-3.2,-2,-2.9,-2.1,-2.3,-2,-1.7,-1.9,-1.1,-2.1,-0.8,-1.9,-0.5,-2,-0.2,-2.1,0.4,-2,0.7,-2.1,1,-1.9,1.3,-2.1,1.6,-2,
-3.9,-2.5,-3.7,-2.6,-3.5,-2.8,-3.3,-2.5,-3.1,-2.7,-2.8,-2.5,-2.6,-2.7,-2.1,-2.6,-1.6,-2.6,-1.1,-2.6,-0.8,-2.5,-0.5,-2.5,-0.2,-2.6,0.1,-2.4,0.4,-2.6,0.7,-2.5,1,-2.5,1.3,-2.7,1.5,-2.4,
-3.9,-2.9,-3.4,-2.9,-2.8,-3,-2.2,-3,-1.9,-2.8,-1.3,-2.9,-0.8,-2.8,-0.3,-2.9,0,-3,0.3,-2.8,0.6,-3,
-2.4,-3.6,-1.8,-3.5,-1.4,-3.7,-1.3,-3.5,-0.9,-3.3,-2.3,-4.2,-0.9,-4.1,-1.3,-4.7,-1.2,-4.8,
-5.1,-3,-4.7,-3.6,-4.4,-3.6,-4.1,-3.9,-4.6,-4,-4.8,-4.4,-4.7,-4.6,-5.1,-5,-5,-5.2,-4.9,-5.1,
5.2,-2.5,5.3,-2.6,5.5,-2.7,5.8,-2.7,6,-2.7,6.4,-2.7,6.6,-2.6,6.8,-2.4,7,-2.3,7.2,-2.2,7.4,-2.3,7.6,-2.2,7.8,-2.2,7.9,-2.1,8,-1.9,7.7,-2.3,8.1,-1.7,8.2,-1.4,7.9,-1.7,7.7,-1.9,8,-1.2,8.1,-1,8.3,-1.1,8.2,-0.8,8.4,-0.7,8.5,-0.8,7.9,-0.9,5.6,-2.1,6.6,-1.9,6.8,-1.8,6.9,-2.7,
8.7,2.8,8.8,2.6,8.6,2.8,8.7,2.6,8.8,2.9,
-4.85,1.15,-4.75,1,-4.65,0.85,-4.55,1.1,-4.4,0.85,-1.85,1.15,-1.75,0.8,-1.65,1.15,-1.55,0.95,-1.45,1.05,-1.35,0.7,-1.25,1.1,-1.75,0.55,-1.6,0.25,-1.45,0.45,-0.05,-0.1,0.05,-0.3,0.15,-0.05,0.25,-0.2,-0.25,-0.3,0.3,0.15,-0.35,0.85,-0.05,0.65,-3.5,-2.35,-3,-2.35,-2.45,-2.2,-1.85,-2.2,-1.25,-2.25,-0.65,-2.35,-0.35,-2.3,0.25,-2.3,0.55,-2.35,0.85,-2.25,1.15,-2.3,-3.45,-1.75,-2.75,-1.85,-2.15,-1.85,-1.25,-1.85,-0.65,-1.85,-0.05,-1.85,0.55,-1.8,1.15,-1.75,1.75,-1.75,-2.85,-1.3,-2.05,-1.25,-1.1,-1.3,-0.45,-1.25,0.45,-1.25,1.05,-1.35,1.7,-1.25,-3.55,-1.25,7.85,-2.1,7.95,-1.8,8.05,-1.55,7.65,-2.05,7.5,-2.3,7.3,-2.25
];
// enrichment bars
const pathwayTerms=["GO:0031175: neuron projection development","GO:0060322: head development","GO:0042063: gliogenesis","hsa05022: Pathways of neurodegeneration - multiple diseases","GO:0060284: regulation of cell development","WP4629: Aerobic glycolysis","R-HSA-9006931: Signaling by Nuclear Receptors","R-HSA-76002: Platelet activation, signaling and aggregation","GO:0008283: cell population proliferation","GO:0007017: microtubule-based process","GO:0043254: regulation of protein-containing complex assembly","WP5094: Orexin receptor pathway","GO:0030901: midbrain development","GO:0045596: negative regulation of cell differentiation","GO:0043009: chordate embryonic development","GO:0048598: embryonic morphogenesis","R-HSA-195721: Signaling by WNT","GO:1905908: positive regulation of amyloid fibril formation","GO:0021510: spinal cord development","GO:1990090: cellular response to nerve growth factor stimulus"];
const pathwayLogP=[16.19,13.8,8.58,8.35,8.03,8.01,7.75,7.52,7.4,7.26,6.99,6.98,6.96,6.67,6.54,6.38,6.35,5.93,5.32,4.89];
const barShades=["#AB5220","#AB5220","#DA8A2F","#DA8A2F","#DA8A2F","#DA8A2F","#DA8A2F","#DA8A2F","#DA8A2F","#DA8A2F","#DA8A2F","#DA8A2F","#DA8A2F","#DA8A2F","#DA8A2F","#DA8A2F","#DA8A2F","#E5BB48","#E5BB48","#E5BB48"];
const visibleGridlines=[2,4,6,10];

const allControl=controlUMAP.concat(controlDense), allT21=t21UMAP.concat(t21Dense);
const pairs=a=>{const o=[];for(let i=0;i+1<a.length;i+=2)o.push([a[i],a[i+1]]);return o;};
const F='"Liberation Sans",Arial,sans-serif', D='"DejaVu Sans",sans-serif';
const panels=[
 {l:60.5,t:22.7,r:322,b:257,x:[-6.07,9.56],y:[-5.87,7.83],yt:[-5,-2.5,0,2.5,5,7.5],fmt:v=>v.toFixed(1),tick:13,name:16,gapX:24,gapY:37,lw:1.5},
 {l:57,t:338.3,r:312.3,b:557.7,x:[-6.74,9.76],y:[-6.7,8.7],yt:[-4,0,4,8],fmt:v=>String(v).replace('-','\u2212'),tick:10.5,name:12,gapX:23,gapY:22,lw:1.3},
 {l:379.7,t:338.3,r:635,b:557.7,x:[-6.74,9.76],y:[-6.7,8.7],yt:[-4,0,4,8],fmt:v=>String(v).replace('-','\u2212'),tick:10.5,name:12,gapX:23,gapY:22,lw:1.3},
 {l:56,t:626,r:314,b:838.7,x:[-6.74,9.76],y:[-6.7,8.7],yt:[-4,0,4,8],fmt:v=>String(v),tick:10.5,name:12,gapX:23,gapY:22,lw:1.3},
 {l:378.3,t:626,r:636,b:838.7,x:[-6.74,9.76],y:[-6.7,8.7],yt:[-4,0,4,8],fmt:v=>String(v),tick:10.5,name:12,gapX:23,gapY:22,lw:1.3}
];
const grids=[],xAxes=[],yAxes=[];
panels.forEach((p,i)=>{
 const ac=i===0?'#111':'#333';
 grids.push({left:p.l,top:p.t,width:p.r-p.l,height:p.b-p.t});
 const xt=[-5,0,5];
 xAxes.push({gridIndex:i,type:'value',min:p.x[0],max:p.x[1],splitLine:{show:false},name:'UMAP_1',nameLocation:'middle',nameGap:p.gapX,
  nameTextStyle:{fontFamily:F,fontSize:p.name,color:'#222'},
  axisLine:{onZero:false,lineStyle:{color:ac,width:p.lw}},axisTick:{show:true,length:3,customValues:xt,lineStyle:{color:ac}},
  axisLabel:{customValues:xt,fontFamily:F,fontSize:p.tick,color:'#222',margin:6,formatter:i===0?(v=>String(v)):p.fmt,showMinLabel:true,showMaxLabel:true}});
 yAxes.push({gridIndex:i,type:'value',min:p.y[0],max:p.y[1],splitLine:{show:false},name:'UMAP_2',nameLocation:'middle',nameGap:p.gapY,
  nameTextStyle:{fontFamily:F,fontSize:p.name,color:'#222'},
  axisLine:{show:true,onZero:false,lineStyle:{color:ac,width:p.lw}},axisTick:{show:true,length:3,customValues:p.yt,lineStyle:{color:ac}},
  axisLabel:{customValues:p.yt,fontFamily:F,fontSize:p.tick,color:'#222',margin:5,formatter:p.fmt}});
});
// panel D
grids.push({left:58,top:900,width:334.7,height:255.7,show:true,borderColor:'#333',borderWidth:1.2,backgroundColor:'transparent'});
xAxes.push({gridIndex:5,type:'value',min:0,max:17,interval:2,splitLine:{show:false},name:'-log10(P)',nameLocation:'middle',nameGap:19,
 nameTextStyle:{fontFamily:D,fontSize:10,color:'#333'},axisLine:{show:false,onZero:false},axisTick:{show:true,length:3.5,customValues:[0,2,4,6,8,10,12,14,16],lineStyle:{color:'#333'}},
 axisLabel:{customValues:[0,2,4,6,8,10,12,14,16],fontFamily:D,fontSize:10,color:'#333',margin:5}});
yAxes.push({gridIndex:5,type:'category',inverse:true,position:'right',boundaryGap:false,data:['',...pathwayTerms,''],
 axisLine:{show:false},axisTick:{show:false},splitLine:{show:false},
 axisLabel:{interval:0,fontFamily:D,fontSize:10,color:'#222',margin:3.5}});

const sc=(name,data,color,i,size,z)=>({type:'scatter',name,data:pairs(data),xAxisIndex:i,yAxisIndex:i,symbolSize:size,z,silent:true,itemStyle:{color,opacity:1},emphasis:{disabled:true}});
const GR='#C9C9C9',PU='#5B2FE8',S=1.9;
const series=[
 sc('control',allControl,'#CE5F5E',0,2.9,2),
 sc('Trisomy 21',allT21,'#5FB3B8',0,2.9,3),
 sc('control cells',allControl,GR,1,S,2), sc('NKX2.1 control',nkxControl,PU,1,S,3),
 sc('Trisomy 21 cells',allT21,GR,2,S,2), sc('NKX2.1 Trisomy 21',nkxT21,PU,2,S,3),
 sc('control cells C',allControl,GR,3,S,2), sc('NR2F2 control',nr2Control,PU,3,S,3),
 sc('Trisomy 21 cells C',allT21,GR,4,S,2), sc('NR2F2 Trisomy 21',nr2T21,PU,4,S,3),
 {type:'line',name:'gridlines',xAxisIndex:5,yAxisIndex:5,data:[],z:1,silent:true,
  markLine:{silent:true,symbol:'none',z:1,animation:false,label:{show:false},lineStyle:{color:'#AAAAAA',width:1.4,type:'solid'},data:visibleGridlines.map(v=>({xAxis:v}))}},
 {type:'bar',name:'-log10(P)',xAxisIndex:5,yAxisIndex:5,z:2,barWidth:10,silent:true,
  data:[null,...pathwayLogP.map((v,i)=>({value:v,itemStyle:{color:barShades[i]}})),null],
  itemStyle:{borderColor:'#555',borderWidth:1}}
];
const ttl=(text,cx,top)=>({text,left:cx,top,textAlign:'center',padding:0,textStyle:{fontFamily:F,fontSize:14,fontWeight:'bold',color:'#111'}});
const letter=(text,top)=>({text,left:2,top,padding:0,textStyle:{fontFamily:F,fontSize:15.5,fontWeight:'bold',color:'#000'}});
const rot=(text,x,y)=>({type:'text',x,y,rotation:-Math.PI/2,silent:true,style:{text,textAlign:'center',textVerticalAlign:'middle',font:'italic bold 14px "Liberation Sans"',fill:'#000'}});
const chart=echarts.init(document.getElementById('c'),null,{renderer:'canvas',width:723,height:1188});
chart.setOption({animation:false,backgroundColor:'#fff',tooltip:{show:false},
 title:[letter('A',2),letter('B',318),letter('C',608),letter('D',898),ttl('control',184.5,320),ttl('Trisomy 21',506.7,320),ttl('control',184.5,606),ttl('Trisomy 21',506.7,606)],
 legend:{data:['control','Trisomy 21'],orient:'vertical',left:189.5,top:37,padding:0,itemWidth:9.5,itemHeight:9.5,itemGap:3,icon:'circle',textStyle:{fontFamily:F,fontSize:13.5,color:'#222',padding:[0,0,0,8.5]},selectedMode:false},
 grid:grids,xAxis:xAxes,yAxis:yAxes,series,
 graphic:[rot('NKX2.1',640.7,449),rot('NR2F2',645,728)]
});
</script></body></html>
